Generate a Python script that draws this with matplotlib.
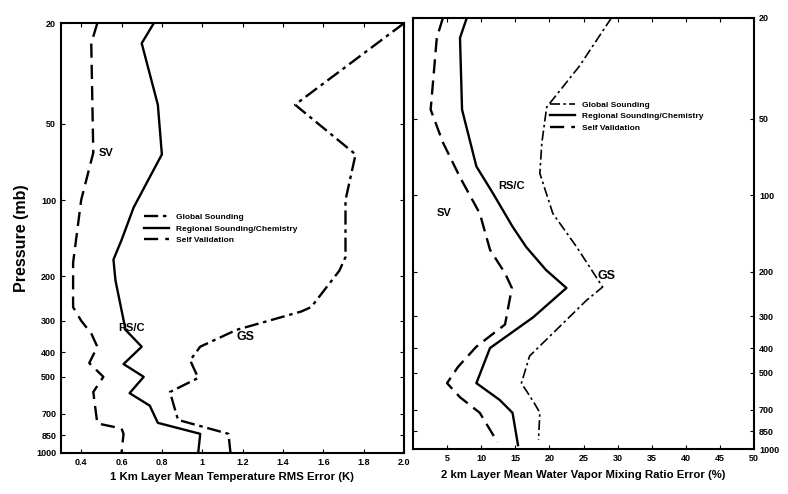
import matplotlib.pyplot as plt
from matplotlib.ticker import FixedLocator, NullLocator

# Temperature RMS error (K) vs pressure (mb)
p_t_sv = [20, 24, 65, 100, 177, 265, 300, 337, 380, 441, 500, 574, 764, 800, 840, 1000]
t_sv = [0.48, 0.45, 0.46, 0.40, 0.36, 0.36, 0.40, 0.45, 0.48, 0.44, 0.51, 0.46, 0.48, 0.60, 0.61, 0.60]

p_t_rsc = [20, 24, 42, 66, 84, 107, 144, 172, 208, 326, 380, 445, 500, 580, 650, 760, 840, 1000]
t_rsc = [0.76, 0.70, 0.78, 0.80, 0.73, 0.66, 0.60, 0.56, 0.57, 0.62, 0.70, 0.61, 0.71, 0.64, 0.74, 0.78, 0.99, 0.98]

p_t_gs = [20, 42, 66, 100, 168, 190, 265, 276, 326, 380, 430, 505, 574, 740, 840, 1000]
t_gs = [2.0, 1.46, 1.76, 1.71, 1.71, 1.68, 1.54, 1.49, 1.17, 0.99, 0.94, 0.98, 0.84, 0.88, 1.13, 1.14]

# Water vapor mixing ratio error (%) vs pressure (mb)
p_w_sv = [20, 24, 46, 62, 85, 118, 164, 203, 232, 323, 395, 475, 550, 625, 720, 940]
w_sv = [4.4, 3.5, 2.6, 4.4, 6.9, 9.8, 11.3, 13.5, 14.5, 13.5, 9.3, 6.6, 5.0, 6.9, 9.8, 12.4]

p_w_rsc = [20, 24, 46, 77, 98, 133, 160, 197, 232, 303, 400, 550, 640, 720, 965]
w_rsc = [7.9, 6.9, 7.2, 9.3, 11.7, 14.6, 16.6, 19.5, 22.5, 17.6, 11.3, 9.3, 12.7, 14.6, 15.4]

p_w_gs = [20, 31, 45, 62, 82, 118, 160, 230, 260, 350, 430, 550, 660, 720, 920]
w_gs = [29.1, 24.4, 19.6, 18.9, 18.6, 20.5, 24.0, 27.8, 25.4, 20.5, 17.1, 15.9, 17.8, 18.6, 18.4]

p_ticks = [20, 50, 100, 200, 300, 400, 500, 700, 850, 1000]
t_ticks = [0.4, 0.6, 0.8, 1, 1.2, 1.4, 1.6, 1.8, 2.0]
t_ticklabels = ["0.4", "0.6", "0.8", "1", "1.2", "1.4", "1.6", "1.8", "2.0"]
w_ticks = [5, 10, 15, 20, 25, 30, 35, 40, 45, 50]

names = ["Global Sounding", "Regional Sounding/Chemistry", "Self Validation"]

plt.rcParams['font.family'] = ['Liberation Sans', 'DejaVu Sans']
plt.rcParams['font.weight'] = 'bold'
plt.rcParams['axes.labelweight'] = 'bold'

GS_STYLE = (0, (6, 2, 1.5, 2))
SV_STYLE = (0, (6, 3))
LW = 1.7

fig = plt.figure(figsize=(7.88, 4.94), dpi=100)
ax1 = fig.add_axes([0.0774, 0.083, 0.4353, 0.870])
ax2 = fig.add_axes([0.524, 0.091, 0.433, 0.873])

# Left panel: temperature
ax1.plot(t_gs, p_t_gs, color='black', lw=LW, ls=GS_STYLE, label=names[0])
ax1.plot(t_rsc, p_t_rsc, color='black', lw=LW, ls='-', label=names[1])
ax1.plot(t_sv, p_t_sv, color='black', lw=LW, ls=SV_STYLE, label=names[2])
ax1.set_yscale('log')
ax1.set_ylim(1000, 20)
ax1.set_xlim(0.3, 2.0)
ax1.yaxis.set_major_locator(FixedLocator(p_ticks))
ax1.set_yticklabels([str(p) for p in p_ticks])
ax1.yaxis.set_minor_locator(NullLocator())
ax1.set_xticks(t_ticks)
ax1.set_xticklabels(t_ticklabels)
ax1.set_xlabel("1 Km Layer Mean Temperature RMS Error (K)", fontsize=8.2, labelpad=4)
ax1.set_ylabel("Pressure (mb)", fontsize=11.5, labelpad=5)
ax1.text(0.485, 65, "SV", fontsize=8, va='center')
ax1.text(0.585, 320, "RS/C", fontsize=8, va='center')
ax1.text(1.17, 348, "GS", fontsize=9, va='center')
ax1.legend(loc='upper left', bbox_to_anchor=(0.22, 0.575), frameon=False,
           fontsize=6, handlelength=3, labelspacing=0.45)

# Right panel: water vapor
ax2.plot(w_gs, p_w_gs, color='black', lw=1.2, ls=GS_STYLE, label=names[0])
ax2.plot(w_rsc, p_w_rsc, color='black', lw=LW, ls='-', label=names[1])
ax2.plot(w_sv, p_w_sv, color='black', lw=LW, ls=SV_STYLE, label=names[2])
ax2.set_yscale('log')
ax2.set_ylim(1000, 20)
ax2.set_xlim(0, 50)
ax2.yaxis.set_major_locator(FixedLocator(p_ticks))
ax2.set_yticklabels([str(p) for p in p_ticks])
ax2.yaxis.set_minor_locator(NullLocator())
ax2.yaxis.tick_right()
ax2.set_xticks(w_ticks)
ax2.set_xlabel("2 km Layer Mean Water Vapor Mixing Ratio Error (%)", fontsize=8.2, labelpad=5)
ax2.text(3.5, 118, "SV", fontsize=8, va='center')
ax2.text(12.5, 92, "RS/C", fontsize=8, va='center')
ax2.text(27, 208, "GS", fontsize=9, va='center')
ax2.legend(loc='upper left', bbox_to_anchor=(0.38, 0.825), frameon=False,
           fontsize=6, handlelength=3, labelspacing=0.45)

for ax in (ax1, ax2):
    ax.tick_params(direction='in', top=True, bottom=True, left=True, right=True,
                   labelsize=6.5, length=3, width=0.8)
    for s in ax.spines.values():
        s.set_linewidth(1.5)
ax2.tick_params(labelleft=False, labelright=True)
ax1.tick_params(labelleft=True, labelright=False)

fig.savefig("out.png", dpi=100)
